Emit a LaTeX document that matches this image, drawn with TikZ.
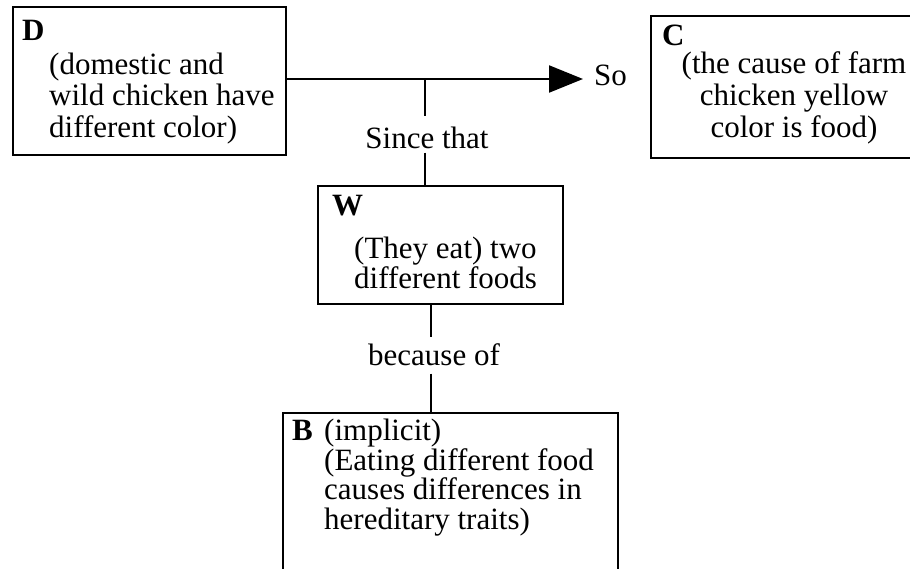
\documentclass[tikz,border=0pt]{standalone}
\usepackage{fontspec}
\setmainfont{Liberation Serif}
\usetikzlibrary{arrows.meta}
\begin{document}
\begin{tikzpicture}[x=1pt,y=-1pt,
  box/.style={draw, line width=1.8pt, inner sep=0pt, anchor=north west},
  txt/.style={inner sep=0pt, font=\fontsize{31}{31.5}\selectfont},
  txtw/.style={inner sep=0pt, font=\fontsize{31}{28}\selectfont},
  txtb/.style={inner sep=0pt, font=\fontsize{31}{29.5}\selectfont},
  lbl/.style={inner sep=0pt, font=\fontsize{31}{31}\selectfont, anchor=base},
  head/.style={inner sep=0pt, font=\fontsize{31}{31}\selectfont\bfseries, anchor=base west},
  conn/.style={line width=2.2pt}]
\useasboundingbox (0,0) rectangle (910,568);
\clip (0,0) rectangle (910,568);
% boxes
\node[box, minimum width=273pt, minimum height=148pt] (D) at (12,6) {};
\node[box, minimum width=300pt, minimum height=142pt] (C) at (650,15) {};
\node[box, minimum width=245pt, minimum height=118pt] (W) at (317,185) {};
\node[box, minimum width=335pt, minimum height=200pt] (B) at (282,412) {};
% box texts (base anchor = last line's baseline)
\node[head] (Dh) at (22,40) {D};
\node[txt, anchor=base west, align=left] (Dt) at (49,137) {(domestic and\\wild chicken have\\different color)};
\node[head] (Ch) at (662,45) {C};
\node[txt, font=\fontsize{31}{32}\selectfont, anchor=base, align=center] (Ct) at (794,137) {(the cause of farm\\chicken yellow\\color is food)};
\node[head] (Wh) at (332,215) {W};
\node[txtw, anchor=base west, align=left] (Wt) at (354,288) {(They eat) two\\different foods};
\node[head] (Bh) at (292,440) {B};
\node[txt, anchor=base west] (Bi) at (324,440) {(implicit)};
\node[txtb, anchor=base west, align=left] (Bt) at (324,529) {(Eating different food\\causes differences in\\hereditary traits)};
% connector labels
\node[lbl] (since) at (427,148) {Since that};
\node[lbl] (because) at (434,365) {because of};
\node[inner sep=0pt, font=\fontsize{31}{31}\selectfont, anchor=base west] (so) at (594,85) {So};
% connectors
\coordinate (j) at (425,79);
\coordinate (tip) at (583,79);
\draw[conn, -{Triangle[length=34pt,width=27pt]}] (D.east |- j) -- (tip);
\draw[conn, shorten >=10pt] (j) -- (j |- since.north);
\draw[conn, shorten <=4pt] (j |- since.south) -- (j |- W.north);
\draw[conn, shorten >=6pt] (W.south -| 431,0) -- (431,0 |- because.north);
\draw[conn, shorten <=8pt] (431,0 |- because.south) -- (431,0 |- B.north);
\end{tikzpicture}
\end{document}
